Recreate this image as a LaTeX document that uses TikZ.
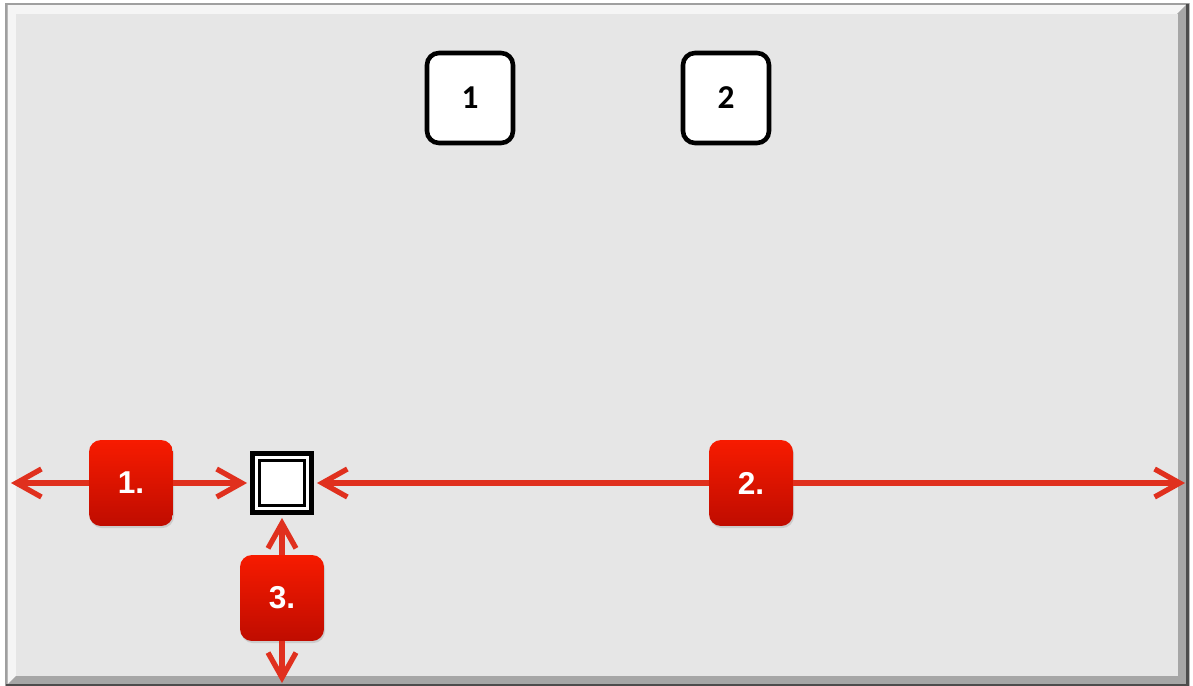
\documentclass[tikz,border=0pt]{standalone}
\usepackage{fontspec}
\newfontfamily\calibrifont{Carlito}
\newfontfamily\arialfont{Liberation Sans}
\usetikzlibrary{arrows.meta,shadows}

\definecolor{panelgray}{HTML}{E6E6E6}
\definecolor{arrowred}{HTML}{E0301E}
\definecolor{boxtop}{HTML}{F71B00}
\definecolor{boxbottom}{HTML}{BF0C00}

\tikzset{
    slot/.style={draw=black, fill=white, line width=2.6pt, rounded corners=6.8pt,
        minimum width=1.72cm, minimum height=1.8cm, inner sep=0pt,
        font=\calibrifont\bfseries\fontsize{19}{19}\selectfont},
    step label/.style={rounded corners=6.8pt, top color=boxtop, bottom color=boxbottom,
        draw=none, minimum width=1.68cm, minimum height=1.72cm, inner sep=0pt,
        text=white, font=\arialfont\bfseries\fontsize{18}{18}\selectfont,
        drop shadow={opacity=0.25, shadow xshift=0.6pt, shadow yshift=-1.2pt}},
    holder/.style={draw=black, fill=white, line width=2.8pt,
        minimum size=1.18cm, inner sep=0pt},
    holder inner/.style={draw=black, line width=1.3pt, minimum size=0.9cm, inner sep=0pt},
    redline/.style={draw=arrowred, line width=3pt,
        arrows={-Straight Barb[length=0.5cm, width=0.56cm, line width=3pt]}}
}

\begin{document}
\begin{tikzpicture}[x=0.02cm, y=-0.02cm]
    \useasboundingbox (0,0) rectangle (1193,686);

    % Panel with bevelled edge
    \fill[gray!55] (5,3) rectangle (1190,686);
    \fill[white!92!gray] (8,5) -- (1186,5) -- (1176,15) -- (18,15) -- (18,674) -- (8,684) -- cycle;
    \fill[gray!70] (1186,5) -- (1186,684) -- (8,684) -- (18,674) -- (1176,674) -- (1176,15) -- cycle;
    \fill[panelgray] (16,14) rectangle (1178,676);
    \draw[gray!75, line width=0.85pt] (6,4) rectangle (1188,685);
    \draw[black!70, line width=1.7pt] (1187,4) -- (1187,685) -- (6,685);

    % Top slots
    \node[slot] (slotA) at (470,98) {1};
    \node[slot] (slotB) at (726,98) {2};

    % Step labels and holder
    \node[step label] (stepA) at (131,483) {1.};
    \node[holder] (hold) at (282,483) {};
    \node[holder inner] (holdin) at (hold.center) {};
    \node[step label] (stepB) at (751,483) {2.};
    \node[step label] (stepC) at (282,598) {3.};

    % Free ends of the arrows
    \coordinate (leftend) at (11,483);
    \coordinate (rightend) at (1185,483);
    \coordinate (downend) at (282,683);

    % Arrows
    \draw[redline] (stepA.west) -- (leftend);
    \draw[redline] (stepA.east) -- ([xshift=-1.7pt]hold.west);
    \draw[redline] (stepB.west) -- ([xshift=1.7pt]hold.east);
    \draw[redline] (stepB.east) -- (rightend);
    \draw[redline] (stepC.north) -- ([yshift=-1.7pt]hold.south);
    \draw[redline] (stepC.south) -- (downend);
\end{tikzpicture}
\end{document}
